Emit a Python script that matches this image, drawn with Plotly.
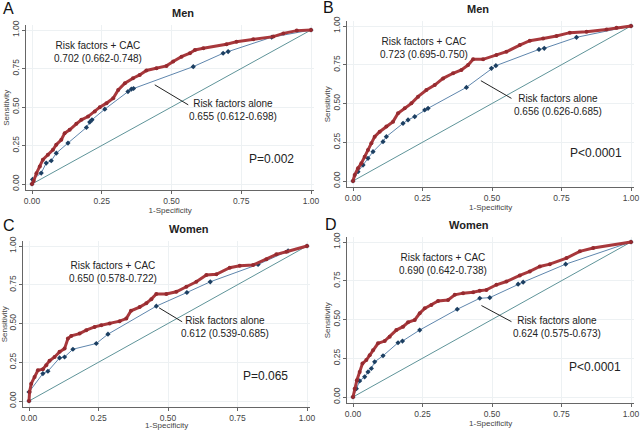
import plotly.graph_objects as go

# ---------------- data ----------------
# Panel A (Men)
a_cac_x = [0, 0.006, 0.016, 0.028, 0.039, 0.057, 0.075, 0.087, 0.105, 0.117, 0.135, 0.159, 0.177, 0.201, 0.225, 0.243, 0.267, 0.291, 0.309, 0.333, 0.362, 0.386, 0.41, 0.446, 0.482, 0.506, 0.536, 0.566, 0.584, 0.614, 0.697, 0.733, 0.793, 0.865, 0.901, 0.949, 1]
a_cac_y = [0, 0.02, 0.07, 0.114, 0.158, 0.19, 0.222, 0.255, 0.287, 0.33, 0.352, 0.391, 0.417, 0.438, 0.471, 0.499, 0.525, 0.557, 0.611, 0.654, 0.687, 0.708, 0.737, 0.752, 0.767, 0.795, 0.827, 0.849, 0.87, 0.881, 0.907, 0.924, 0.94, 0.957, 0.978, 0.996, 1]
a_rf_x = [0, 0.002, 0.033, 0.051, 0.069, 0.087, 0.129, 0.195, 0.207, 0.215, 0.261, 0.344, 0.356, 0.364, 0.578, 0.685, 0.703, 0.859, 1]
a_rf_y = [0, 0.03, 0.071, 0.136, 0.151, 0.2, 0.266, 0.367, 0.402, 0.417, 0.486, 0.6, 0.616, 0.62, 0.762, 0.849, 0.86, 0.953, 1]

# Panel B (Men)
b_cac_x = [0, 0.006, 0.018, 0.03, 0.042, 0.054, 0.066, 0.078, 0.096, 0.12, 0.144, 0.162, 0.186, 0.21, 0.234, 0.264, 0.294, 0.324, 0.36, 0.39, 0.414, 0.432, 0.468, 0.516, 0.552, 0.6, 0.636, 0.684, 0.732, 0.78, 0.84, 0.912, 0.948, 1]
b_cac_y = [0, 0.039, 0.082, 0.114, 0.157, 0.2, 0.243, 0.286, 0.318, 0.351, 0.383, 0.437, 0.469, 0.501, 0.544, 0.587, 0.619, 0.662, 0.695, 0.716, 0.748, 0.785, 0.785, 0.813, 0.834, 0.877, 0.905, 0.92, 0.935, 0.957, 0.963, 0.978, 0.989, 1]
b_rf_x = [0, 0.018, 0.036, 0.054, 0.072, 0.108, 0.12, 0.18, 0.198, 0.222, 0.258, 0.27, 0.408, 0.498, 0.514, 0.669, 0.688, 0.804, 1]
b_rf_y = [0, 0.06, 0.103, 0.146, 0.189, 0.254, 0.286, 0.372, 0.394, 0.415, 0.458, 0.469, 0.604, 0.727, 0.744, 0.849, 0.856, 0.927, 1]

# Panel C (Women)
c_cac_x = [0, 0.002, 0.008, 0.02, 0.032, 0.05, 0.062, 0.074, 0.092, 0.11, 0.128, 0.14, 0.152, 0.182, 0.206, 0.236, 0.26, 0.29, 0.326, 0.35, 0.367, 0.398, 0.422, 0.44, 0.458, 0.494, 0.53, 0.566, 0.602, 0.638, 0.674, 0.722, 0.758, 0.806, 0.854, 0.89, 0.926, 1]
c_cac_y = [0, 0.058, 0.112, 0.155, 0.198, 0.205, 0.231, 0.259, 0.284, 0.317, 0.338, 0.403, 0.42, 0.435, 0.457, 0.478, 0.489, 0.5, 0.515, 0.532, 0.582, 0.606, 0.631, 0.657, 0.69, 0.69, 0.705, 0.737, 0.769, 0.813, 0.817, 0.86, 0.873, 0.877, 0.914, 0.946, 0.963, 1]
c_rf_x = [0, 0, 0.05, 0.068, 0.11, 0.128, 0.158, 0.242, 0.284, 0.458, 0.568, 0.652, 0.824, 0.932, 1]
c_rf_y = [0, 0.058, 0.177, 0.192, 0.278, 0.284, 0.334, 0.371, 0.431, 0.612, 0.7, 0.769, 0.881, 0.968, 1]

# Panel D (Women)
d_cac_x = [0, 0.006, 0.014, 0.024, 0.034, 0.048, 0.06, 0.072, 0.09, 0.114, 0.132, 0.156, 0.18, 0.198, 0.222, 0.24, 0.258, 0.282, 0.306, 0.342, 0.366, 0.396, 0.432, 0.456, 0.48, 0.516, 0.552, 0.6, 0.636, 0.672, 0.708, 0.768, 0.816, 0.864, 1]
d_cac_y = [0, 0.054, 0.108, 0.162, 0.216, 0.238, 0.27, 0.302, 0.346, 0.361, 0.389, 0.432, 0.454, 0.482, 0.497, 0.54, 0.572, 0.594, 0.62, 0.626, 0.659, 0.67, 0.676, 0.685, 0.691, 0.724, 0.745, 0.784, 0.81, 0.842, 0.857, 0.896, 0.94, 0.961, 1]
d_rf_x = [0, 0.012, 0.024, 0.042, 0.054, 0.066, 0.078, 0.108, 0.162, 0.178, 0.24, 0.375, 0.456, 0.492, 0.594, 0.612, 0.765, 1]
d_rf_y = [0, 0.054, 0.104, 0.13, 0.162, 0.184, 0.227, 0.266, 0.35, 0.361, 0.432, 0.566, 0.637, 0.641, 0.728, 0.741, 0.857, 1]

panel_letters = ["A", "B", "C", "D"]
panel_titles = ["Men", "Men", "Women", "Women"]
cac_labels = ["Risk factors + CAC<br>0.702 (0.662-0.748)", "Risk factors + CAC<br>0.723 (0.695-0.750)",
              "Risk factors + CAC<br>0.650 (0.578-0.722)", "Risk factors + CAC<br>0.690 (0.642-0.738)"]
rf_labels = ["Risk factors alone<br>0.655 (0.612-0.698)", "Risk factors alone<br>0.656 (0.626-0.685)",
             "Risk factors alone<br>0.612 (0.539-0.685)", "Risk factors alone<br>0.624 (0.575-0.673)"]
p_labels = ["P=0.002", "P<0.0001", "P=0.065", "P<0.0001"]
tick_vals = [0, 0.25, 0.5, 0.75, 1.0]
tick_text = ["0.00", "0.25", "0.50", "0.75", "1.00"]

# label positions (data coords) per panel
cac_pos = [(0.237, 0.86), (0.254, 0.856), (0.302, 0.834), (0.322, 0.857)]
rf_pos = [(0.72, 0.48), (0.738, 0.49), (0.704, 0.478), (0.735, 0.454)]
p_pos = [(0.86, 0.162), (0.874, 0.183), (0.85, 0.164), (0.87, 0.194)]
pointer = [((0.44, 0.644), (0.56, 0.514)), ((0.46, 0.647), (0.57, 0.533)),
           ((0.468, 0.601), (0.551, 0.511)), ((0.462, 0.59), (0.57, 0.486))]

data = [(a_cac_x, a_cac_y, a_rf_x, a_rf_y), (b_cac_x, b_cac_y, b_rf_x, b_rf_y),
        (c_cac_x, c_cac_y, c_rf_x, c_rf_y), (d_cac_x, d_cac_y, d_rf_x, d_rf_y)]

# ---------------- layout geometry ----------------
W, H = 640, 430
XR = [-0.02, 1.01]
YR = [-0.04, 1.03]
# pixel positions of data 0 and 1 on each axis: (x0, x1, y0, y1)
pix = [(32, 311, 184, 30), (353, 631, 181, 26), (29, 307, 401, 246), (353, 631, 397, 242)]

RED_LINE = "#a8383c"
RED_MK = "#962a2f"
BLUE_LINE = "#5f86ad"
BLUE_MK = "#1c3f62"
DIAG = "#5f9499"
FONT = "Liberation Sans, Arial, sans-serif"

fig = go.Figure()
layout = dict(width=W, height=H, margin=dict(l=0, r=0, t=0, b=0, autoexpand=False),
              paper_bgcolor="white", plot_bgcolor="white", showlegend=False,
              font=dict(family=FONT, color="#222"))
annotations = []
shapes = []

for i in range(4):
    n = "" if i == 0 else str(i + 1)
    xa, ya = "x" + n, "y" + n
    x0p, x1p, y0p, y1p = pix[i]
    sx = x1p - x0p
    sy = y0p - y1p
    left = x0p + XR[0] * sx
    right = x0p + XR[1] * sx
    bottom = y0p - YR[0] * sy
    top = y0p - YR[1] * sy
    axis_common = dict(showline=True, linecolor="#666", linewidth=1, ticks="outside",
                       ticklen=3, tickcolor="#666", showgrid=True, gridcolor="#edf1f3",
                       gridwidth=1, zeroline=False, tickvals=tick_vals, ticktext=tick_text,
                       tickfont=dict(size=8.5, color="#444"), fixedrange=True, automargin=False)
    layout["xaxis" + n] = dict(axis_common, domain=[left / W, right / W], range=XR, anchor=ya,
                               title=dict(text="1-Specificity", font=dict(size=8, color="#444"), standoff=0))
    layout["yaxis" + n] = dict(axis_common, domain=[1 - bottom / H, 1 - top / H], range=YR, anchor=xa,
                               tickangle=-90,
                               title=dict(text="Sensitivity", font=dict(size=8, color="#444"), standoff=0))
    cx, cy, rx, ry = data[i]
    # diagonal reference
    fig.add_trace(go.Scatter(x=[0, 1], y=[0, 1], mode="lines", xaxis=xa, yaxis=ya,
                             line=dict(color=DIAG, width=1), hoverinfo="skip"))
    fig.add_trace(go.Scatter(x=rx, y=ry, mode="lines+markers", xaxis=xa, yaxis=ya,
                             line=dict(color=BLUE_LINE, width=1),
                             marker=dict(symbol="diamond", size=4, color=BLUE_MK)))
    fig.add_trace(go.Scatter(x=cx, y=cy, mode="lines+markers", xaxis=xa, yaxis=ya,
                             line=dict(color=RED_LINE, width=3),
                             marker=dict(symbol="circle", size=4, color=RED_MK)))
    annotations.append(dict(x=cac_pos[i][0], y=cac_pos[i][1], xref=xa, yref=ya, text=cac_labels[i],
                            showarrow=False, font=dict(size=10, color="#222"), align="center"))
    annotations.append(dict(x=rf_pos[i][0], y=rf_pos[i][1], xref=xa, yref=ya, text=rf_labels[i],
                            showarrow=False, font=dict(size=10, color="#222"), align="center"))
    annotations.append(dict(x=p_pos[i][0], y=p_pos[i][1], xref=xa, yref=ya, text=p_labels[i],
                            showarrow=False, font=dict(size=12, color="#222")))
    (sx0, sy0), (sx1, sy1) = pointer[i]
    shapes.append(dict(type="line", xref=xa, yref=ya, x0=sx0, y0=sy0, x1=sx1, y1=sy1,
                       line=dict(color="#222", width=1)))
    # title
    mid_x = (left + right) / 2 / W
    annotations.append(dict(x=mid_x, y=1 - (top - 12) / H, xref="paper", yref="paper",
                            text="<b>" + panel_titles[i] + "</b>", showarrow=False,
                            font=dict(size=11, color="#222"), yanchor="middle"))

letter_pos = [(1, 9), (321, 8), (1, 225), (323, 224)]
for i, (lx, ly) in enumerate(letter_pos):
    annotations.append(dict(x=lx / W, y=1 - ly / H, xref="paper", yref="paper", text=panel_letters[i],
                            showarrow=False, xanchor="left", yanchor="middle",
                            font=dict(size=16, color="#111")))

layout["annotations"] = annotations
layout["shapes"] = shapes
fig.update_layout(**layout)
fig.write_html("out.html", config={"displayModeBar": False},
               post_script="document.body.style.margin='0';document.body.style.overflow='hidden';")
